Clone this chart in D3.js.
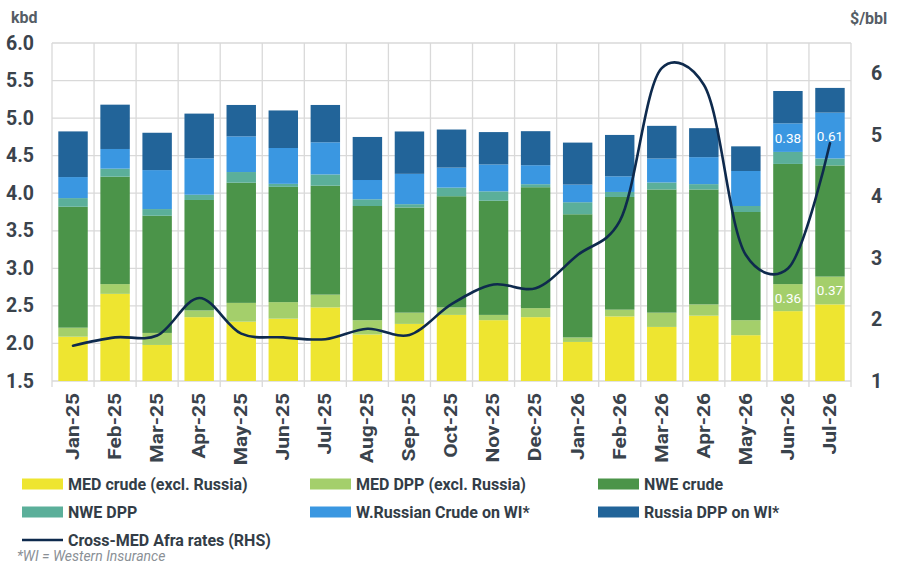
<!DOCTYPE html>
<html><head><meta charset="utf-8">
<script src="https://cdn.jsdelivr.net/npm/d3@7"></script>
<style>
html,body{margin:0;padding:0;background:#fff;}
svg{display:block;font-family:Roboto,"Liberation Sans",Arial,sans-serif;}
</style></head>
<body>
<svg id="chart" width="904" height="568"></svg>
<script>
const months = ["Jan-25","Feb-25","Mar-25","Apr-25","May-25","Jun-25","Jul-25","Aug-25","Sep-25","Oct-25","Nov-25","Dec-25","Jan-26","Feb-26","Mar-26","Apr-26","May-26","Jun-26","Jul-26"];
const medCrude  = [2.09,2.66,1.98,2.35,2.29,2.33,2.48,2.12,2.26,2.38,2.31,2.35,2.02,2.36,2.22,2.37,2.11,2.43,2.52];
const medDpp    = [0.12,0.13,0.16,0.09,0.25,0.22,0.17,0.19,0.15,0.10,0.07,0.12,0.06,0.09,0.19,0.15,0.20,0.36,0.37];
const nweCrude  = [1.61,1.43,1.56,1.47,1.60,1.535,1.45,1.52,1.40,1.48,1.52,1.61,1.64,1.50,1.64,1.53,1.44,1.60,1.48];
const nweDpp    = [0.115,0.107,0.089,0.07,0.142,0.04,0.15,0.089,0.044,0.115,0.125,0.04,0.16,0.067,0.093,0.071,0.08,0.16,0.093];
const wRusCrude = [0.28,0.262,0.519,0.485,0.475,0.477,0.428,0.257,0.404,0.266,0.358,0.253,0.235,0.208,0.319,0.359,0.466,0.38,0.61];
const rusDpp    = [0.608,0.59,0.497,0.595,0.418,0.50,0.497,0.573,0.564,0.507,0.431,0.453,0.559,0.551,0.435,0.386,0.328,0.431,0.329];
const afraRates = [1.575,1.71,1.74,2.35,1.77,1.71,1.68,1.85,1.75,2.25,2.57,2.51,3.05,3.60,6.09,5.82,3.05,2.83,4.87];
const leftTicks  = [1.5,2.0,2.5,3.0,3.5,4.0,4.5,5.0,5.5,6.0];
const rightTicks = [1,2,3,4,5,6];
const seriesNames = ["MED crude (excl. Russia)","MED DPP (excl. Russia)","NWE crude","NWE DPP","W.Russian Crude on WI*","Russia DPP on WI*"];
const seriesColors = ["#EEE530","#A4CF6B","#4B9449","#5BAF9A","#3A97E1","#226499"];
const lineName = "Cross-MED Afra rates (RHS)";
const lineColor = "#0E2A4D";
// labels shown on bars: [seriesIndex, monthIndex]
const barLabels = [[1,17],[1,18],[4,17],[4,18]];

const seriesVals = [medCrude,medDpp,nweCrude,nweDpp,wRusCrude,rusDpp];
const rows = months.map((m,i)=>{const o={month:m}; seriesNames.forEach((s,k)=>o[s]=seriesVals[k][i]); return o;});
const stacked = d3.stack().keys(seriesNames)(rows);

const svg = d3.select("#chart");
const L=52, R=851, T=43, B=381;
const x = d3.scaleBand().domain(months).range([L,R]).paddingInner(0.3).paddingOuter(0.15);
const yL = d3.scaleLinear().domain([1.5,6]).range([B,T]);
const yR = d3.scaleLinear().domain([1,6.5]).range([B,T]);
const grid="#d9d9d9", txt="#3a434c";

svg.append("defs").append("clipPath").attr("id","clip").append("rect")
  .attr("x",L).attr("y",T).attr("width",R-L).attr("height",B-T);

// gridlines
svg.append("g").selectAll("line").data(leftTicks).join("line")
  .attr("x1",L).attr("x2",R).attr("y1",d=>yL(d)).attr("y2",d=>yL(d))
  .attr("stroke",grid).attr("stroke-width",1.3);
const step = x.step();
const vx = d3.range(months.length+1).map(i=>L+i*step);
svg.append("g").selectAll("line").data(vx).join("line")
  .attr("x1",d=>d).attr("x2",d=>d).attr("y1",T).attr("y2",B+6)
  .attr("stroke",grid).attr("stroke-width",1.3);

// bars
const gb = svg.append("g").attr("clip-path","url(#clip)");
stacked.forEach((layer,k)=>{
  gb.append("g").attr("fill",seriesColors[k]).selectAll("rect").data(layer).join("rect")
    .attr("x",d=>x(d.data.month)).attr("width",x.bandwidth())
    .attr("y",d=>yL(d[1])).attr("height",d=>Math.max(0,yL(d[0])-yL(d[1])));
});

// bar labels
svg.append("g").selectAll("text").data(barLabels).join("text")
  .attr("x",d=>x(months[d[1]])+x.bandwidth()/2)
  .attr("y",d=>{const s=stacked[d[0]][d[1]]; return (yL(s[0])+yL(s[1]))/2;})
  .attr("text-anchor","middle").attr("dominant-baseline","central")
  .attr("fill","#fff").attr("font-size",13.5)
  .text(d=>seriesVals[d[0]][d[1]].toFixed(2));

// line
const line = d3.line().x((d,i)=>x(months[i])+x.bandwidth()/2).y(d=>yR(d)).curve(d3.curveCatmullRom.alpha(0.25));
svg.append("path").datum(afraRates).attr("d",line)
  .attr("fill","none").attr("stroke",lineColor).attr("stroke-width",2.6).attr("stroke-linecap","round");

// left axis labels
svg.append("g").selectAll("text").data(leftTicks).join("text")
  .attr("x",34).attr("y",d=>yL(d)).attr("dominant-baseline","central").attr("text-anchor","end")
  .attr("font-size",19.5).attr("font-weight",700).attr("fill",txt)
  .text(d=>d3.format(".1f")(d));
svg.append("g").selectAll("text").data(rightTicks).join("text")
  .attr("x",871).attr("y",d=>yR(d)).attr("dominant-baseline","central").attr("text-anchor","start")
  .attr("font-size",19.5).attr("font-weight",700).attr("fill",txt)
  .text(d=>d);
svg.append("text").attr("x",11).attr("y",23).attr("font-size",16).attr("font-weight",700).attr("fill","#555d66").text("kbd");
svg.append("text").attr("x",850).attr("y",24).attr("font-size",16).attr("font-weight",700).attr("fill","#555d66").text("$/bbl");

// x labels
svg.append("g").selectAll("text").data(months).join("text")
  .attr("transform",d=>`translate(${x(d)+x.bandwidth()/2},393) rotate(-90) scale(1.2,1)`)
  .attr("text-anchor","end").attr("dominant-baseline","central")
  .attr("font-size",17.5).attr("font-weight",700).attr("fill",txt)
  .text(d=>d);

// legend
const legItems = seriesNames.map((n,i)=>({name:n,color:seriesColors[i],type:"rect"}));
legItems.push({name:lineName,color:lineColor,type:"line"});
const colX=[22,310,598], rowY=[484,512,540];
const lg = svg.append("g");
legItems.forEach((it,i)=>{
  const cx=colX[i%3], cy=rowY[Math.floor(i/3)];
  if(it.type==="rect") lg.append("rect").attr("x",cx).attr("y",cy-5.5).attr("width",41).attr("height",11).attr("fill",it.color);
  else lg.append("line").attr("x1",cx).attr("x2",cx+41).attr("y1",cy).attr("y2",cy).attr("stroke",it.color).attr("stroke-width",2.6);
  lg.append("text").attr("x",cx+46).attr("y",cy).attr("dominant-baseline","central")
    .attr("font-size",16).attr("font-weight",700).attr("fill","#333d47").text(it.name);
});
svg.append("text").attr("x",17).attr("y",561).attr("font-size",14).attr("font-style","italic")
  .attr("fill","#8a9096").text("*WI = Western Insurance");
</script>
</body></html>
